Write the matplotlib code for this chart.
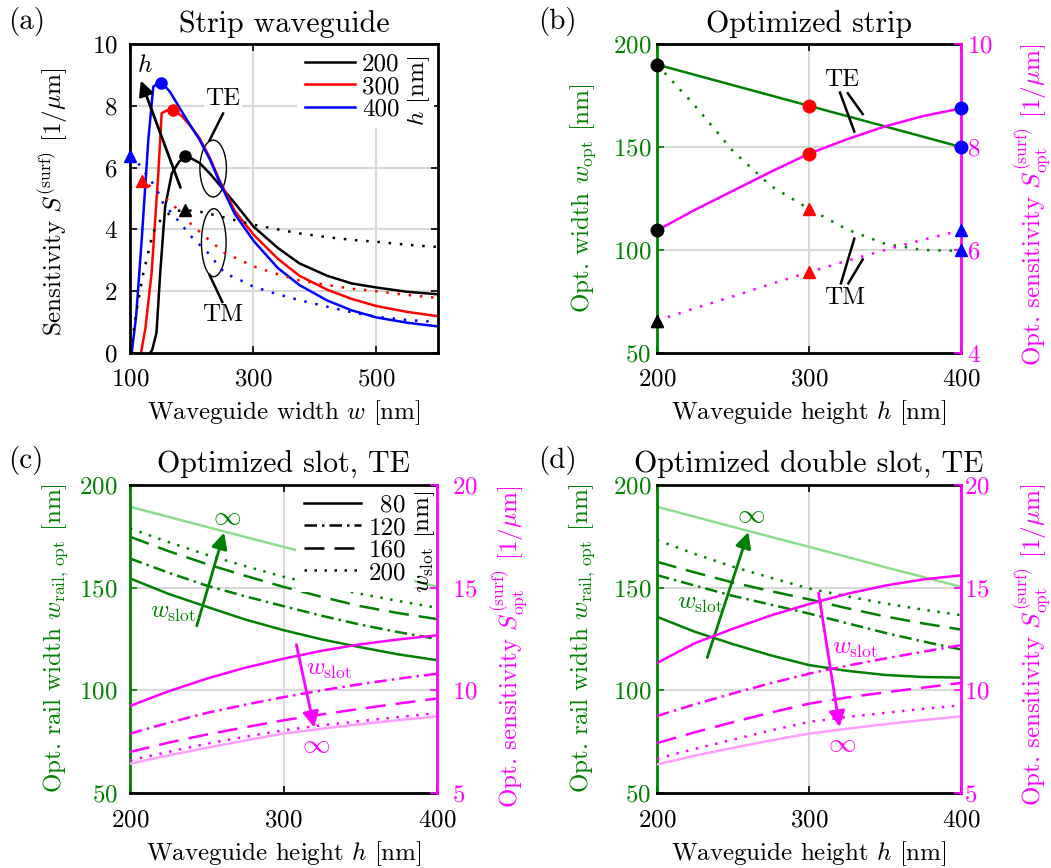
import numpy as np
import matplotlib
matplotlib.use('Agg')
import matplotlib.pyplot as plt
from matplotlib.patches import Ellipse
from matplotlib.lines import Line2D

plt.rcParams['font.family'] = ['cmr10', 'DejaVu Serif']
plt.rcParams['mathtext.fontset'] = 'cm'
plt.rcParams['axes.formatter.use_mathtext'] = True
plt.rcParams['font.size'] = 18

GREEN = (0, 0.5, 0)
LGREEN = (0.55, 0.87, 0.55)
MAG = (1, 0, 1)
LMAG = (1, 0.62, 1)
GRIDC = (0.85, 0.85, 0.85)
LW = 1.8

# ---------------- (a) strip waveguide, S vs width ----------------
w_te200 = [132.5, 136, 143, 149, 157, 168, 180, 192, 213, 230, 245, 270, 301, 340, 375, 420, 460, 500, 550, 600]
s_te200 = [0, 0.1, 0.65, 2.58, 4.73, 5.82, 6.2, 6.38, 6.15, 5.8, 5.45, 4.85, 4.08, 3.4, 2.9, 2.5, 2.25, 2.12, 1.98, 1.9]
w_te300 = [117.8, 125, 135, 146, 151.4, 160, 170, 185, 200, 213, 230, 245, 270, 301, 340, 375, 420, 460, 500, 550, 600]
s_te300 = [0, 0.8, 2.58, 5.82, 7.76, 7.85, 7.9, 7.65, 7.3, 6.95, 6.3, 5.6, 4.6, 3.82, 3.05, 2.5, 2.05, 1.75, 1.52, 1.33, 1.19]
w_te400 = [102.7, 110, 119, 129.7, 137.8, 145, 152, 165, 180, 200, 213, 230, 245, 270, 301, 340, 375, 420, 460, 500, 550, 600]
s_te400 = [0, 1.2, 3.66, 6.89, 8.62, 8.72, 8.75, 8.45, 7.95, 7.3, 6.9, 6.25, 5.55, 4.5, 3.62, 2.75, 2.2, 1.7, 1.38, 1.15, 0.98, 0.86]
w_tm200 = [101, 110, 121.6, 137, 145, 156, 169, 190, 220, 260, 301, 340, 375, 420, 460, 500, 550, 600]
s_tm200 = [0, 1.3, 2.58, 3.87, 4.2, 4.42, 4.58, 4.63, 4.55, 4.35, 4.15, 4.0, 3.87, 3.75, 3.66, 3.6, 3.5, 3.43]
w_tm300 = [100, 121.6, 135, 154, 170, 192, 216, 235, 254, 280, 301, 340, 375, 420, 460, 500, 550, 600]
s_tm300 = [5.35, 5.6, 5.35, 5.06, 4.8, 4.3, 3.87, 3.55, 3.23, 3.0, 2.8, 2.55, 2.35, 2.2, 2.08, 2.0, 1.88, 1.78]
w_tm400 = [100, 115, 128, 140.6, 154, 173, 200, 227, 254, 280, 301, 340, 375, 420, 460, 500, 550, 600]
s_tm400 = [6.38, 6.1, 5.75, 5.38, 4.84, 4.41, 3.76, 3.23, 2.58, 2.35, 2.14, 1.9, 1.71, 1.5, 1.32, 1.17, 1.07, 1.0]

# optimum points (h = 200, 300, 400)
h_opt = [200, 300, 400]
wopt_te = [190, 170, 150]
sopt_te = [6.38, 7.87, 8.75]
wopt_tm = [190, 120, 100]
sopt_tm = [4.63, 5.57, 6.38]
opt_colors = ['k', 'r', 'b']

# ---------------- (b) optimized strip ----------------
h_b = [200, 225, 250, 275, 300, 325, 350, 375, 400]
wb_te = [190, 185, 180, 175, 170, 165, 160, 155, 150]
wb_tm = [190, 170, 148, 131, 120, 110, 103, 100, 99.6]
sb_te = [6.38, 6.78, 7.15, 7.52, 7.87, 8.15, 8.4, 8.6, 8.75]
sb_tm = [4.63, 4.87, 5.1, 5.34, 5.57, 5.79, 6.0, 6.2, 6.38]

# ---------------- (c) slot, (d) double slot ----------------
h_cd = [200, 225, 250, 275, 300, 325, 350, 375, 400]
slot_labels = ['80', '120', '160', '200']
c_w = [[154.5, 147, 140.7, 134.5, 129.3, 124.8, 121, 117.5, 114.7],
       [164.2, 157.3, 151, 145.8, 141, 136.3, 132, 128.3, 125],
       [174.8, 167.8, 161.5, 155.8, 150.4, 145.5, 141, 137.6, 134.7],
       [178.9, 172.2, 166, 160.5, 155.3, 151, 147, 143.5, 140.2]]
c_winf = [189.4, 184.5, 179.6, 174.7, 169.9, 165, 160, 155.2, 150.4]
c_s = [[9.24, 9.95, 10.57, 11.1, 11.54, 11.93, 12.24, 12.48, 12.68],
       [7.89, 8.42, 8.9, 9.3, 9.67, 10.0, 10.3, 10.57, 10.81],
       [7.0, 7.45, 7.85, 8.2, 8.54, 8.83, 9.1, 9.36, 9.6],
       [6.59, 7.0, 7.4, 7.74, 8.05, 8.3, 8.5, 8.7, 8.89]]
c_sinf = [6.42, 6.83, 7.2, 7.56, 7.89, 8.13, 8.35, 8.55, 8.73]

d_w = [[135.8, 128.5, 122.5, 117, 112.3, 109.5, 107.5, 106.5, 106.2],
       [156.1, 151, 146, 141.7, 137.4, 132.7, 128, 123.8, 119.9],
       [162.6, 157.4, 152.5, 148.3, 144.3, 140, 136, 132.6, 129.6],
       [173.2, 166.4, 160.2, 154.8, 149.6, 145.8, 142.3, 139.3, 136.6]]
d_winf = [189.4, 184.5, 179.6, 174.7, 169.9, 165, 160, 155.2, 150.4]
d_s = [[11.33, 12.3, 13.0, 13.65, 14.2, 14.7, 15.1, 15.4, 15.6],
       [8.75, 9.32, 9.85, 10.35, 10.81, 11.2, 11.55, 11.88, 12.2],
       [7.43, 7.96, 8.45, 8.92, 9.35, 9.65, 9.9, 10.13, 10.36],
       [6.67, 7.15, 7.6, 8.05, 8.46, 8.7, 8.9, 9.1, 9.27]]
d_sinf = [6.39, 6.82, 7.2, 7.56, 7.89, 8.13, 8.35, 8.55, 8.73]

styles = ['-', (0, (5, 2, 1, 2)), (0, (8, 4)), (0, (1, 3))]

fig = plt.figure(figsize=(10.51, 8.68), dpi=100)
W, H = 1051, 868


def add_axes(x0, y0, x1, y1):
    return fig.add_axes([x0 / W, 1 - y1 / H, (x1 - x0) / W, (y1 - y0) / H])


def base_style(ax, xpad, ypad):
    ax.tick_params(direction='in', length=5, width=1.2, top=True)
    ax.tick_params(axis='x', pad=xpad)
    ax.tick_params(axis='y', pad=ypad)
    for s in ax.spines.values():
        s.set_linewidth(2)
    ax.grid(True, color=GRIDC, lw=1.5)
    ax.set_axisbelow(True)


def twin_style(ax, ax2, lpad, rpad):
    ax.spines['left'].set_color(GREEN)
    ax.spines['right'].set_visible(False)
    ax.tick_params(axis='y', colors=GREEN, right=False)
    ax2.spines['left'].set_visible(False)
    ax2.spines['top'].set_visible(False)
    ax2.spines['bottom'].set_visible(False)
    ax2.spines['right'].set_color(MAG)
    ax2.spines['right'].set_linewidth(2)
    ax2.spines['right'].set_zorder(6)
    ax2.tick_params(axis='y', colors=MAG, direction='in', length=5, width=1.2, pad=rpad)


# ===== (a) =====
ax = add_axes(130, 44, 438, 353)
base_style(ax, 11, 9)
ax.tick_params(right=True)
ax.set_xlim(100, 600)
ax.set_ylim(0, 10)
ax.set_xticks([100, 300, 500])
ax.set_yticks([0, 2, 4, 6, 8, 10])
l200, = ax.plot(w_te200, s_te200, color='k', lw=LW, label='200')
l300, = ax.plot(w_te300, s_te300, color='r', lw=LW, label='300')
l400, = ax.plot(w_te400, s_te400, color='b', lw=LW, label='400')
for wx, sy, c in [(w_tm200, s_tm200, 'k'), (w_tm300, s_tm300, 'r'), (w_tm400, s_tm400, 'b')]:
    ax.plot(wx, sy, color=c, lw=LW, ls=(0, (1, 3.5)))
for i, c in enumerate(opt_colors):
    ax.plot(wopt_te[i], sopt_te[i], 'o', color=c, ms=8, clip_on=False, zorder=5)
    ax.plot(wopt_tm[i], sopt_tm[i], '^', color=c, ms=9, clip_on=False, zorder=5)
ax.annotate('', xy=(116, 8.9), xytext=(183.5, 5.27),
            arrowprops=dict(arrowstyle='-|>', color='k', lw=2, mutation_scale=22))
ax.text(124.4, 9.3, '$h$', ha='center', va='center')
ax.add_patch(Ellipse((235, 5.97), 43, 1.84, fill=False, lw=1, color='k'))
ax.add_patch(Ellipse((236, 3.57), 40, 2.2, fill=False, lw=1, color='k'))
ax.plot([229.3, 251], [6.89, 7.75], color='k', lw=1.8)
ax.plot([229.3, 249.8], [2.52, 1.65], color='k', lw=1.8)
ax.text(251, 8.22, 'TE', ha='center', va='center',
        bbox=dict(facecolor='white', edgecolor='none', pad=1))
ax.text(250.4, 1.23, 'TM', ha='center', va='center')
leg = ax.legend(handles=[l200, l300, l400], loc='upper right', bbox_to_anchor=(0.9, 0.995),
                frameon=True, framealpha=1, edgecolor='none', fancybox=False,
                borderpad=0.3, borderaxespad=0, labelspacing=0.0,
                handlelength=2.0, handletextpad=0.3)
ax.text(0.935, 0.85, '$h$ [nm]', transform=ax.transAxes, rotation=90, zorder=2.2,
        ha='center', va='center', bbox=dict(facecolor='white', edgecolor='none', pad=1))
ax.set_title('Strip waveguide', pad=9)
ax.set_xlabel('Waveguide width $w$ [nm]')
ax.xaxis.set_label_coords(0.5, -0.145)
ax.xaxis.label.set_va('top')
ax.set_ylabel(r'Sensitivity $S^{(\mathrm{surf})}$ [1/$\mu$m]')
ax.yaxis.set_label_coords(-0.195, 0.49)

# ===== (b) =====
ax = add_axes(657, 44, 961, 353)
base_style(ax, 11, 4)
ax.set_xlim(200, 400)
ax.set_ylim(50, 200)
ax.set_xticks([200, 300, 400])
ax.set_yticks([50, 100, 150, 200])
ax2 = ax.twinx()
twin_style(ax, ax2, 4, 4)
ax2.set_ylim(4, 10)
ax2.set_yticks([4, 6, 8, 10])
ax.plot(h_b, wb_te, color=GREEN, lw=LW)
ax.plot(h_b, wb_tm, color=GREEN, lw=LW, ls=(0, (1, 3.5)))
ax2.plot(h_b, sb_te, color=MAG, lw=LW)
ax2.plot(h_b, sb_tm, color=MAG, lw=LW, ls=(0, (1, 3.5)))
for i, c in enumerate(opt_colors):
    ax2.plot(h_opt[i], ax2.transData.inverted().transform(ax.transData.transform((h_opt[i], wopt_te[i])))[1],
             'o', color=c, ms=9, clip_on=False, zorder=7)
    ax2.plot(h_opt[i], sopt_te[i], 'o', color=c, ms=9, clip_on=False, zorder=7)
    ax2.plot(h_opt[i], sopt_tm[i], '^', color=c, ms=9, clip_on=False, zorder=7)
    if i > 0:
        ax2.plot(h_opt[i], ax2.transData.inverted().transform(ax.transData.transform((h_opt[i], wopt_tm[i])))[1],
                 '^', color=c, ms=9, clip_on=False, zorder=7)
ax.plot(200, 65.6, '^', color='k', ms=9, clip_on=False, zorder=5)
for seg in [((320.4, 329.8), (176.4, 157.5)), ((325.5, 335.3), (176.1, 166.0)),
            ((321, 329.8), (83.8, 105.5)), ((325.9, 335.3), (83.8, 95.4))]:
    ax.plot(seg[0], seg[1], color='k', lw=1.8)
ax.text(321.5, 182.5, 'TE', ha='center', va='center')
ax.text(323.7, 76.6, 'TM', ha='center', va='center')
ax.set_title('Optimized strip', pad=9)
ax.set_xlabel('Waveguide height $h$ [nm]')
ax.xaxis.set_label_coords(0.5, -0.145)
ax.xaxis.label.set_va('top')
ax.set_ylabel(r'Opt. width $w_{\mathrm{opt}}$ [nm]', color=GREEN)
ax.yaxis.set_label_coords(-0.194, 0.5)
ax2.set_ylabel(r'Opt. sensitivity $S^{(\mathrm{surf})}_{\mathrm{opt}}$ [1/$\mu$m]', color=MAG)
ax2.yaxis.set_label_coords(1.171, 0.48)


# ===== (c) and (d) =====
def slot_panel(box, title, wl, winf, sl, sinf, lpad, rpad, rlab_x, rlab_y, ann, legend):
    ax = add_axes(*box)
    base_style(ax, 12, lpad)
    ax.set_xlim(200, 400)
    ax.set_ylim(50, 200)
    ax.set_xticks([200, 300, 400])
    ax.set_yticks([50, 100, 150, 200])
    ax2 = ax.twinx()
    twin_style(ax, ax2, lpad, rpad)
    ax2.set_ylim(5, 20)
    ax2.set_yticks([5, 10, 15, 20])
    ax.plot(h_cd, winf, color=LGREEN, lw=LW)
    ax2.plot(h_cd, sinf, color=LMAG, lw=LW)
    for k in range(4):
        ax.plot(h_cd, wl[k], color=GREEN, lw=LW, ls=styles[k])
        ax2.plot(h_cd, sl[k], color=MAG, lw=LW, ls=styles[k])
    (gt, gh, ginf, gw), (mt, mh, minf, mw) = ann
    ax.annotate('', xy=gh, xytext=gt,
                arrowprops=dict(arrowstyle='-|>', color=GREEN, lw=2, mutation_scale=24))
    ax.text(*ginf, r'$\infty$', color=GREEN, fontsize=20, ha='center', va='center')
    ax.text(*gw, r'$w_{\mathrm{slot}}$', color=GREEN, ha='center', va='center')
    ax2.annotate('', xy=mh, xytext=mt,
                 arrowprops=dict(arrowstyle='-|>', color=MAG, lw=2, mutation_scale=24))
    ax2.text(*minf, r'$\infty$', color=MAG, fontsize=20, ha='center', va='center')
    ax2.text(*mw, r'$w_{\mathrm{slot}}$', color=MAG, ha='center', va='center')
    if legend:
        handles = [Line2D([], [], color='k', lw=LW, ls=styles[k]) for k in range(4)]
        labs = [r'$\enspace$' + s if len(s) == 2 else s for s in slot_labels]
        ax2.legend(handles, labs, loc='upper right', bbox_to_anchor=(0.925, 0.995),
                   frameon=True, framealpha=1, edgecolor='none', fancybox=False,
                   borderpad=0.3, borderaxespad=0, labelspacing=0.0,
                   handlelength=2.3, handletextpad=0.3)
        ax2.text(0.954, 0.815, r'$w_{\mathrm{slot}}$ [nm]', transform=ax2.transAxes, rotation=90,
                 ha='center', va='center')
    ax.set_title(title, pad=9)
    ax.set_xlabel('Waveguide height $h$ [nm]')
    ax.xaxis.set_label_coords(0.5, -0.15)
    ax.xaxis.label.set_va('top')
    ax.set_ylabel(r'Opt. rail width $w_{\mathrm{rail,\,opt}}$ [nm]', color=GREEN)
    ax.yaxis.set_label_coords(-0.193, 0.503)
    ax2.set_ylabel(r'Opt. sensitivity $S^{(\mathrm{surf})}_{\mathrm{opt}}$ [1/$\mu$m]', color=MAG)
    ax2.yaxis.set_label_coords(rlab_x, rlab_y)


slot_panel((130, 485, 437, 793), 'Optimized slot, TE', c_w, c_winf, c_s, c_sinf, 9, 11, 1.173, 0.474,
           (((243, 130.1), (261.8, 178.1), (263, 184.6), (228, 137.6)),
            ((308, 12.36), (320.4, 8.05), (321.5, 7.34), (330, 10.99))), True)
slot_panel((657, 485, 961, 793), 'Optimized double slot, TE', d_w, d_winf, d_s, d_sinf, 4, 2, 1.171, 0.48,
           (((232.5, 114.7), (260.7, 178.4), (262, 185.4), (228, 142.3)),
            ((306, 14.88), (320.4, 8.08), (321.5, 7.4), (330, 12.0))), False)

for lab, x, y in [('(a)', 8, 22), ('(b)', 538, 22), ('(c)', 8, 460), ('(d)', 538, 460)]:
    fig.text(x / W, 1 - y / H, lab, fontsize=21, ha='left', va='center')

fig.savefig('out.png', dpi=100)
